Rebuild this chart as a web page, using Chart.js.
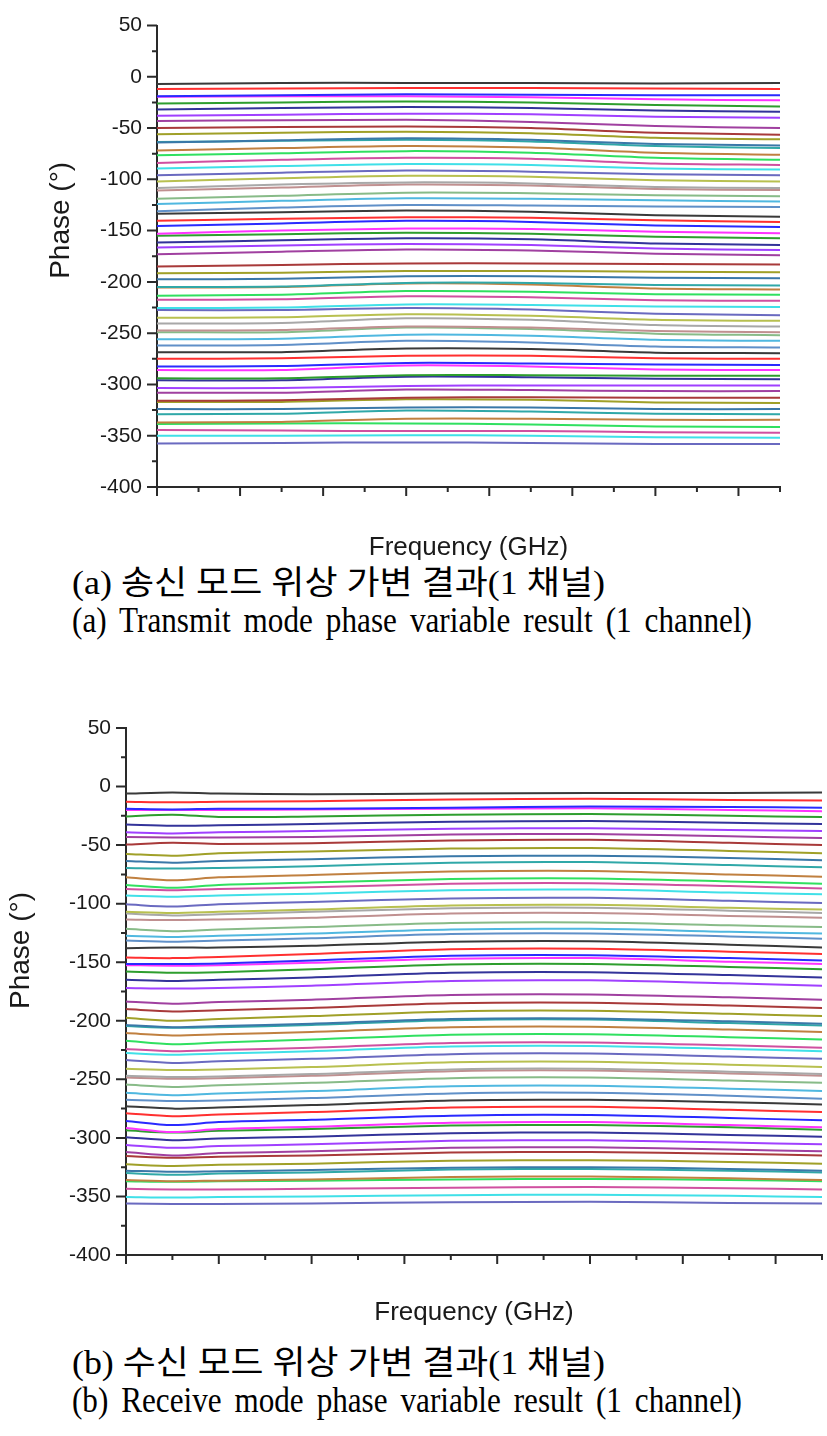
<!DOCTYPE html>
<html><head><meta charset="utf-8">
<script src="https://cdn.jsdelivr.net/npm/chart.js@4.4.1/dist/chart.umd.min.js"></script>
<style>
html,body{margin:0;padding:0;background:#fff;}
body{width:827px;height:1436px;position:relative;overflow:hidden;}
canvas{position:absolute;left:0;}
.cap{position:absolute;left:72px;white-space:nowrap;transform-origin:0 50%;color:#000;line-height:1;}
.ko{font-family:"Liberation Serif","Noto Sans CJK KR",serif;font-size:33px;}
.en{font-family:"Liberation Serif",serif;font-size:36px;word-spacing:6px;}
</style></head><body>
<canvas id="tx" width="827" height="563" style="top:0px;width:827px;height:563px"></canvas>
<canvas id="rx" width="827" height="628" style="top:700px;width:827px;height:628px"></canvas>
<div class="cap ko" id="capA1" data-w="533" style="top:567px">(a) 송신 모드 위상 가변 결과(1 채널)</div>
<div class="cap en" id="capA2" data-w="680" style="top:602px">(a) Transmit mode phase variable result (1 channel)</div>
<div class="cap ko" id="capB1" data-w="533" style="top:1347px">(b) 수신 모드 위상 가변 결과(1 채널)</div>
<div class="cap en" id="capB2" data-w="670" style="top:1382px">(b) Receive mode phase variable result (1 channel)</div>
<script>
// ---- data ----
const xTitle = 'Frequency (GHz)';
const yTitle = 'Phase (°)';
const yMajorTicks = [50, 0, -50, -100, -150, -200, -250, -300, -350, -400];
const yMinorTicks = [25, -25, -75, -125, -175, -225, -275, -325, -375];
const xMajorTicks = [0, 1, 2, 3, 4, 5, 6, 7];
const xMinorTicks = [0.5, 1.5, 2.5, 3.5, 4.5, 5.5, 6.5, 7.5];

const lineColors = ['#3a3a3a','#ff3030','#2a2aff','#ff33ff','#2e9e2e','#33339a','#a040ff','#a040a0',
  '#a83a3a','#a0a028','#3a78a8','#30a8a8','#c08040','#30e060','#d050a0','#40e0e8','#6a6ac0',
  '#b8c050','#a8a8a8','#c09090','#88bb88','#50b8e0','#6090c8'];

// (a) transmit mode
const txFreq = [0, 1.5, 3, 4.5, 6, 7.5];
const txPhase = [
 [-7,-6,-6,-6,-6.5,-6],
 [-12,-11.5,-11,-11,-11.5,-12],
 [-19,-18,-17,-17.5,-18,-18],
 [-19.5,-19,-19,-20,-22,-23],
 [-26,-25,-24,-25,-27.5,-29],
 [-32,-30.5,-29.5,-30.5,-33,-34],
 [-38,-37,-36,-36.5,-39,-40],
 [-43,-42.5,-42,-44,-48,-50],
 [-50,-49,-48.5,-50,-54.5,-56.5],
 [-56,-54.5,-53.5,-55,-59.5,-61],
 [-64,-62,-60,-61.5,-65.5,-67],
 [-63.5,-62.5,-61.5,-63,-67.5,-69.5],
 [-72,-69.5,-67.5,-69,-74,-76],
 [-76.5,-74.5,-72.5,-74,-79,-81],
 [-84,-81,-79,-80,-84.5,-86],
 [-89.5,-87,-85,-86,-89.5,-90.5],
 [-96,-93.5,-91.5,-92.5,-95,-96],
 [-102,-99,-96.5,-97.5,-101,-102],
 [-108.5,-105,-103,-104,-107.5,-108.5],
 [-111,-108,-105,-106,-109.5,-110.5],
 [-119,-116,-113,-113.5,-115.5,-116.5],
 [-124,-121,-118.5,-119,-120.5,-121.5],
 [-131,-127.5,-125,-125.5,-126.5,-127],
 [-133.5,-132,-130.5,-131.5,-135,-136.5],
 [-140.5,-138.5,-137,-137.5,-140,-141.5],
 [-145.5,-143,-140.5,-141.5,-145,-146.5],
 [-153,-150,-148,-148.5,-151,-152.5],
 [-155,-153.5,-152,-153,-156,-157.5],
 [-161.5,-159.5,-157.5,-158.5,-162.5,-164],
 [-166.5,-164.5,-163,-164,-167.5,-169],
 [-173,-170.5,-168.5,-169.5,-172.5,-174],
 [-185,-183.5,-182,-182,-182.5,-183],
 [-191.5,-191,-189.5,-189.5,-190,-190.5],
 [-197.5,-197,-194.5,-194.5,-196,-196.5],
 [-205,-204.5,-201,-201,-203,-203.5],
 [-205.5,-205,-201.5,-202.5,-206.5,-207.5],
 [-213.5,-212.5,-209,-209.5,-212,-212.5],
 [-217.5,-217,-214,-215,-218,-218.5],
 [-225.5,-225,-222,-222.5,-224,-224.5],
 [-227.5,-227.5,-225.5,-227,-231,-232.5],
 [-235,-234.5,-231.5,-233,-237,-238],
 [-240.5,-240,-235.5,-237,-242,-243.5],
 [-247.5,-247,-243.5,-244.5,-248,-249],
 [-249,-249,-244.5,-246,-250.5,-252],
 [-256,-255.5,-251.5,-252.5,-256.5,-257.5],
 [-262,-261.5,-257.5,-259,-263,-264],
 [-268.5,-268.5,-265,-265.5,-269,-269.5],
 [-275,-274.5,-272,-272,-274.5,-275],
 [-282.5,-282,-279,-279.5,-280.5,-281],
 [-286,-286,-281.5,-282.5,-285.5,-286],
 [-294,-294,-291,-291,-291.5,-291.5],
 [-296,-296,-292.5,-293,-294.5,-295],
 [-303.5,-303.5,-301.5,-301,-301,-301],
 [-308,-308,-305,-305.5,-306.5,-306.5],
 [-316,-315.5,-313,-312.5,-313,-313],
 [-317,-317,-314.5,-315,-317.5,-318],
 [-324,-324,-322.5,-322.5,-324,-324],
 [-329,-328.5,-325.5,-326.5,-328.5,-329],
 [-337,-336.5,-333.5,-333.5,-334.5,-334.5],
 [-338.5,-338,-338,-339,-341,-341.5],
 [-344.5,-345,-345.5,-345.5,-346.5,-347],
 [-350,-350,-349.5,-350,-351.5,-352],
 [-357.5,-357,-356.5,-357,-358,-358]
];

// (b) receive mode
const rxFreq = [0, 0.5, 1, 2, 3.5, 5, 6.5, 7.5];
const rxPhase = [
 [-6,-5,-6,-6.5,-6,-5.5,-5.5,-5],
 [-13,-13.5,-13,-12.5,-11,-10.5,-11.5,-12],
 [-19,-19.5,-19,-19,-18,-17,-17.5,-18],
 [-20,-20,-20,-19.5,-19,-18.5,-20,-21],
 [-25.5,-24,-26,-25.5,-24,-23.5,-25,-26],
 [-32.5,-33.5,-33,-32,-30,-29.5,-31,-32],
 [-39,-40,-39,-38,-36,-35.5,-37,-38],
 [-43,-43.5,-43.5,-43,-41,-40.5,-42.5,-44],
 [-49.5,-48,-49,-48.5,-46,-45.5,-48,-50],
 [-57.5,-59,-57,-55.5,-53,-52.5,-55,-57],
 [-63.5,-65,-63.5,-62,-59.5,-59,-61,-63],
 [-69.5,-70,-69.5,-68,-65,-64.5,-67,-69],
 [-77.5,-80,-77.5,-75.5,-72.5,-72,-75,-77],
 [-84,-86.5,-84,-82,-79,-78.5,-81,-83],
 [-87.5,-88.5,-87.5,-86,-83,-82.5,-85,-87],
 [-93,-94,-93,-91.5,-88.5,-88,-90.5,-92],
 [-100.5,-102.5,-100.5,-98.5,-95.5,-95,-97.5,-99.5],
 [-107,-108,-107,-105,-101.5,-101,-103.5,-105],
 [-108.5,-110,-109,-107,-104,-103.5,-106,-108],
 [-113.5,-114,-113.5,-112,-108.5,-108,-110.5,-112],
 [-121.5,-123.5,-122,-120,-116.5,-116,-118.5,-120],
 [-127.5,-128.5,-127.5,-125.5,-122,-121.5,-124,-125.5],
 [-131.5,-132.5,-131.5,-129.5,-126,-125.5,-128,-130],
 [-138,-137.5,-137.5,-136,-132.5,-132,-135,-137.5],
 [-146,-146.5,-145.5,-143,-139,-138.5,-141,-143],
 [-151.5,-151.5,-151,-148.5,-144.5,-144,-146.5,-148.5],
 [-152.5,-153,-152.5,-150.5,-147,-146.5,-149.5,-151.5],
 [-158,-159,-158.5,-156,-152,-151.5,-154,-156],
 [-165,-166,-165,-163,-159,-158.5,-161,-163],
 [-172,-172.5,-172,-170,-166,-165.5,-168,-170],
 [-183.5,-185.5,-184,-182,-178,-177.5,-180,-182],
 [-190,-192,-191,-189,-185,-184.5,-187,-189],
 [-197.5,-200,-198.5,-196,-192,-191.5,-194,-196],
 [-203.5,-205.5,-204.5,-202.5,-198.5,-198,-200.5,-202.5],
 [-204.5,-206,-205.5,-203.5,-199.5,-199,-202,-204],
 [-210.5,-212.5,-211.5,-209.5,-205.5,-205,-207.5,-209.5],
 [-217,-220,-218.5,-216,-212,-211.5,-214,-216],
 [-224,-226,-225,-223,-219,-218.5,-221,-223],
 [-227.5,-229,-228,-226,-222,-221.5,-224,-226],
 [-233.5,-236,-234.5,-232.5,-228.5,-228,-230.5,-232.5],
 [-241,-242,-241.5,-239.5,-235.5,-235,-237.5,-239.5],
 [-247,-248,-247.5,-245.5,-241.5,-241,-243.5,-245.5],
 [-248.5,-249.5,-249,-247,-243,-242.5,-245,-247],
 [-254.5,-256.5,-255,-253,-249,-248.5,-251,-253],
 [-261.5,-263.5,-262,-260,-256,-255.5,-258,-260],
 [-267.5,-268.5,-268,-266,-262,-261.5,-264,-266.5],
 [-273,-275,-274,-272,-268,-267.5,-269.5,-271.5],
 [-279,-281.5,-280,-278,-274,-273.5,-276,-278],
 [-285.5,-289,-286.5,-284.5,-281,-280.5,-283,-285],
 [-291.5,-295,-292.5,-290.5,-287,-286.5,-289,-291],
 [-293.5,-295.5,-294,-292.5,-289.5,-289,-291,-293],
 [-299.5,-302,-300.5,-299,-296,-295.5,-297.5,-299],
 [-306,-308.5,-307,-305.5,-302.5,-302,-304,-305.5],
 [-312,-315,-313,-311.5,-308.5,-308,-310,-311.5],
 [-315.5,-317,-316,-315,-312.5,-312,-313.5,-315],
 [-322.5,-324,-323,-322,-319.5,-319,-320.5,-322],
 [-328,-329,-328.5,-327.5,-325.5,-325,-326.5,-328],
 [-330,-331.5,-330.5,-329.5,-327,-326.5,-328,-329.5],
 [-336,-337,-336.5,-335.5,-333.5,-333,-334.5,-336],
 [-337,-337.5,-337,-336.5,-335.5,-335,-336,-337],
 [-343.5,-344,-344,-343.5,-342.5,-342,-343,-344],
 [-350.5,-351,-350.5,-350,-349,-348.5,-349.5,-350.5],
 [-356,-356.5,-356.5,-356,-355,-354.5,-355.5,-356]
];

// ---- drawing ----
const tickPlugin = {
  id: 'axisExtras',
  afterDraw(chart, args, opts) {
    const {ctx, scales: {x, y}} = chart;
    const left = y.right, bottom = x.top;
    ctx.save();
    ctx.strokeStyle = '#2a2a2a';
    ctx.lineWidth = 2;
    ctx.beginPath();
    yMajorTicks.forEach(v => { const p = y.getPixelForValue(v); ctx.moveTo(left - 10, p); ctx.lineTo(left, p); });
    yMinorTicks.forEach(v => { const p = y.getPixelForValue(v); ctx.moveTo(left - 5, p); ctx.lineTo(left, p); });
    xMajorTicks.forEach(v => { const p = x.getPixelForValue(v); ctx.moveTo(p, bottom); ctx.lineTo(p, bottom + 9); });
    xMinorTicks.forEach(v => { const p = x.getPixelForValue(v); ctx.moveTo(p, bottom); ctx.lineTo(p, bottom + 5); });
    ctx.stroke();
    // y axis title
    ctx.translate(opts.titleX, y.getPixelForValue(opts.titleAt));
    ctx.rotate(-Math.PI / 2);
    ctx.fillStyle = '#1a1a1a';
    ctx.font = '28px "Liberation Sans", Arial, sans-serif';
    ctx.textAlign = 'center';
    ctx.textBaseline = 'middle';
    ctx.fillText(yTitle, 0, 0);
    ctx.restore();
  }
};

function makeChart(id, freq, phase, geo) {
  const datasets = phase.map((row, i) => ({
    data: row.map((v, j) => ({x: freq[j], y: v})),
    borderColor: lineColors[i % lineColors.length],
    borderWidth: 2,
    pointRadius: 0,
    tension: 0.3,
    fill: false
  }));
  return new Chart(document.getElementById(id), {
    type: 'line',
    data: {datasets},
    plugins: [tickPlugin],
    options: {
      responsive: false,
      animation: false,
      layout: {padding: {left: 0, top: geo.top, right: geo.right, bottom: 0}},
      plugins: {legend: {display: false}, tooltip: {enabled: false},
                axisExtras: {titleX: geo.titleX, titleAt: -140}},
      scales: {
        x: {
          type: 'linear', min: 0, max: 7.5,
          ticks: {display: false},
          grid: {display: false, drawTicks: false},
          border: {display: true, color: '#2a2a2a', width: 2},
          title: {display: true, text: xTitle, color: '#1a1a1a', padding: 0,
                  font: {family: 'Liberation Sans, Arial, sans-serif', size: 26, lineHeight: 1.2}},
          afterFit(s) { s.height = geo.xh; }
        },
        y: {
          type: 'linear', min: -400, max: 50,
          ticks: {stepSize: 50, padding: 15, color: '#1a1a1a',
                  font: {family: 'Liberation Sans, Arial, sans-serif', size: 21, lineHeight: 1}},
          grid: {display: false, drawTicks: false},
          border: {display: true, color: '#2a2a2a', width: 2},
          title: {display: false},
          afterFit(s) { s.width = geo.yw; }
        }
      }
    }
  });
}

makeChart('tx', txFreq, txPhase, {top: 12, right: 47, xh: 76, yw: 157, titleX: 61});
makeChart('rx', rxFreq, rxPhase, {top: 28, right: 5, xh: 73, yw: 126, titleX: 21});

// fit caption widths
document.querySelectorAll('.cap').forEach(el => {
  const w = el.getBoundingClientRect().width;
  const target = +el.dataset.w;
  el.style.transform = 'scaleX(' + (target / w) + ')';
});
</script>
</body></html>
